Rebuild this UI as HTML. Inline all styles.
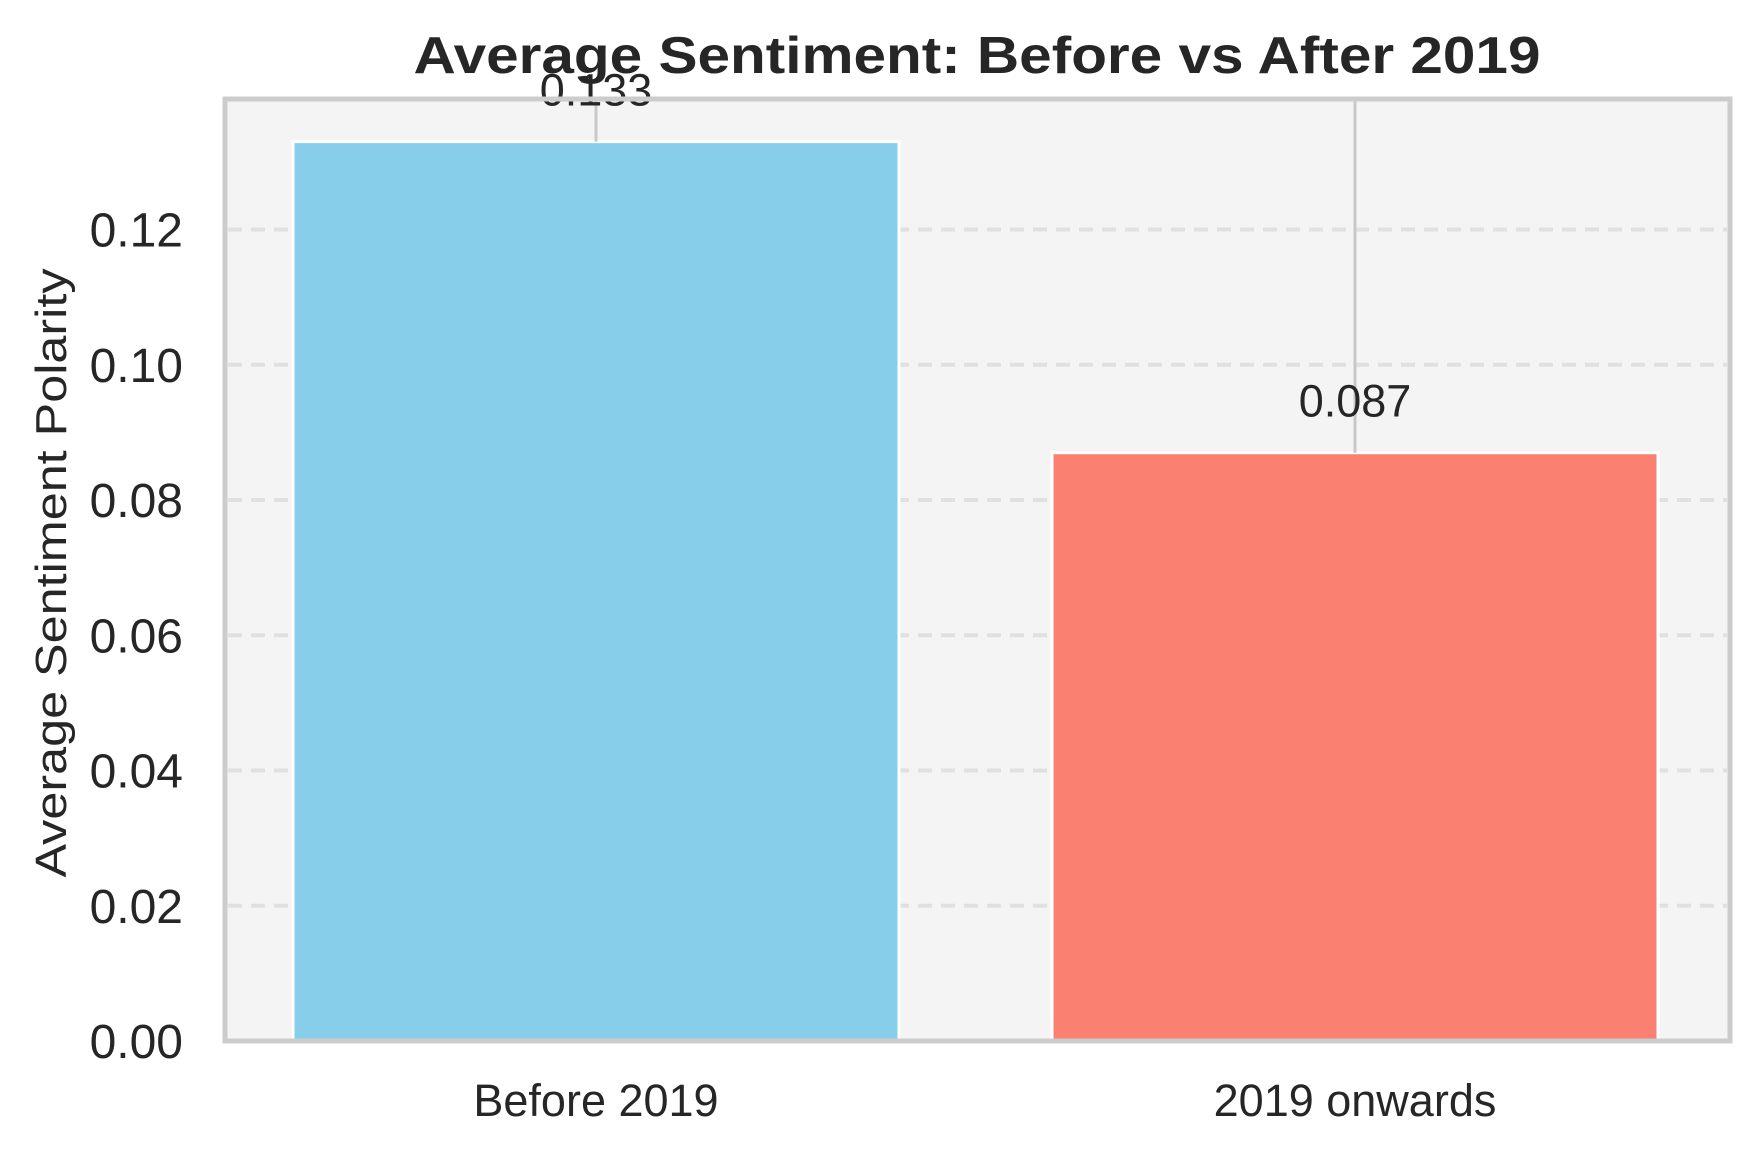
<!DOCTYPE html>
<html><head><meta charset="utf-8"><style>
html,body{margin:0;padding:0;background:#fff;}
svg{display:block;font-family:"Liberation Sans",Arial,sans-serif;}
</style></head><body>
<svg id="chart" width="1753" height="1153" viewBox="0 0 1753 1153">
<rect x="225" y="99" width="1505" height="942" fill="#f4f4f4"/>
<g id="grid"></g>
<g id="bars"></g>
<rect x="225" y="99" width="1505" height="942" fill="none" stroke="#cccccc" stroke-width="5"/>
<g id="yticks"></g>
<g id="xticks"></g>
<text x="977" y="73" text-anchor="middle" font-size="52" font-weight="bold" fill="#262626" textLength="1127" lengthAdjust="spacingAndGlyphs">Average Sentiment: Before vs After 2019</text>
<text transform="translate(66,573) rotate(-90)" text-anchor="middle" font-size="44" fill="#262626" textLength="609" lengthAdjust="spacingAndGlyphs">Average Sentiment Polarity</text>
</svg>
<script>
const categories = ["Before 2019", "2019 onwards"];
const values = [0.133, 0.087];
const valueLabels = ["0.133", "0.087"];
const colors = ["#87ceeb", "#fa8072"];
const yTicks = [0, 0.02, 0.04, 0.06, 0.08, 0.10, 0.12];
const yTickLabels = ["0.00", "0.02", "0.04", "0.06", "0.08", "0.10", "0.12"];

const NS = "http://www.w3.org/2000/svg";
const y0px = 1041, pxPerUnit = 6762, axTop = 99;
function yScale(v){ return y0px - v * pxPerUnit; }
function xScale(i){ return 596 + i * 759; }
const barW = 606;
function mk(tag, attrs, parent){ const e = document.createElementNS(NS, tag); for (const k in attrs) e.setAttribute(k, attrs[k]); parent.appendChild(e); return e; }

const grid = document.getElementById("grid");
const yt = document.getElementById("yticks");
yTicks.forEach((t, i) => {
  const y = yScale(t);
  if (t > 0) {
    const g = mk("line", {x1: 228, x2: 1727, y1: y, y2: y, stroke: "#e0e0e0", "stroke-width": 4, "stroke-dasharray": "14,9"}, grid);
    
    
  }
  const tx = mk("text", {x: 183, y: y + 17, "text-anchor": "end", "font-size": 48, fill: "#262626"}, yt);
  tx.textContent = yTickLabels[i];
  
  
});

const bars = document.getElementById("bars");
const xt = document.getElementById("xticks");
categories.forEach((c, i) => {
  const cx = xScale(i), top = yScale(values[i]);
  const r = mk("rect", {x: cx - barW/2, y: top, width: barW, height: y0px - top, fill: colors[i], stroke: "#ffffff", "stroke-width": 3}, bars);
  
  
  const el = mk("line", {x1: cx, x2: cx, y1: axTop, y2: top, stroke: "#c8c8c8", "stroke-width": 3}, bars);
  
  
  const vl = mk("text", {x: cx, y: top - 36, "text-anchor": "middle", "font-size": 45, fill: "#262626"}, bars);
  vl.textContent = valueLabels[i];
  
  
  const xl = mk("text", {x: cx, y: 1116, "text-anchor": "middle", "font-size": 45, fill: "#262626"}, xt);
  xl.textContent = c;
  
  
});
</script>
</body></html>
